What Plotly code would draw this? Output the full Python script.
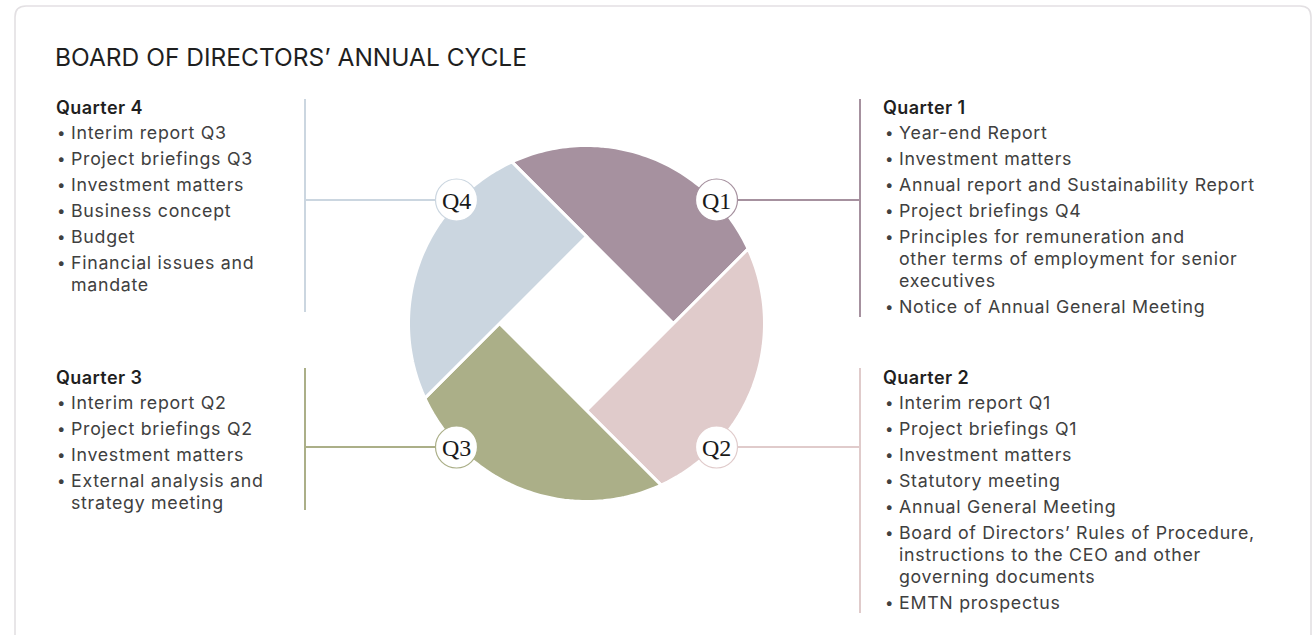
import numpy as np
import plotly.graph_objects as go

# ---------------- data ----------------
title = "BOARD OF DIRECTORS’ ANNUAL CYCLE"
quarter_labels = ["Q1", "Q2", "Q3", "Q4"]
headings = ["Quarter 1", "Quarter 2", "Quarter 3", "Quarter 4"]
q1_items = [["Year-end Report"], ["Investment matters"],
            ["Annual report and Sustainability Report"], ["Project briefings Q4"],
            ["Principles for remuneration and", "other terms of employment for senior", "executives"],
            ["Notice of Annual General Meeting"]]
q2_items = [["Interim report Q1"], ["Project briefings Q1"], ["Investment matters"],
            ["Statutory meeting"], ["Annual General Meeting"],
            ["Board of Directors’ Rules of Procedure,", "instructions to the CEO and other", "governing documents"],
            ["EMTN prospectus"]]
q3_items = [["Interim report Q2"], ["Project briefings Q2"], ["Investment matters"],
            ["External analysis and", "strategy meeting"]]
q4_items = [["Interim report Q3"], ["Project briefings Q3"], ["Investment matters"],
            ["Business concept"], ["Budget"], ["Financial issues and", "mandate"]]
quarter_items = [q1_items, q2_items, q3_items, q4_items]
quarter_colors = ["#a6919f", "#e0cbcb", "#abaf88", "#cbd6e0"]

# ---------------- layout constants ----------------
W, H = 1315, 635
CX, CY, R, HD = 586.5, 323.5, 178.0, 87.0     # wheel centre, radius, half-diagonal of inner square
BADGE_R = 21.0
BADGE_DX, BADGE_DY = 130.0, 123.5
TEXT_COL = "#404040"
HEAD_COL = "#1f1f1f"
FONT = "Inter"
LS = "letter-spacing:0.7px"

cols = [
    dict(vx=860, hx=881, bx=883, tx=897, hy=107, vy0=99, vy1=317),
    dict(vx=860, hx=881, bx=883, tx=897, hy=377, vy0=368, vy1=613),
    dict(vx=305, hx=54, bx=55, tx=69, hy=377, vy0=368, vy1=510),
    dict(vx=305, hx=54, bx=55, tx=69, hy=107, vy0=99, vy1=312),
]
ITEM_GAP = 25.9
WRAP_GAP = 22.0

fig = go.Figure()
shapes = []
annotations = []

# card
x0c, y0c, x1c, y1c, rc = 15, 6, 1311, 660, 11
card = (f"M {x0c+rc},{y0c} L {x1c-rc},{y0c} Q {x1c},{y0c} {x1c},{y0c+rc} "
        f"L {x1c},{y1c} L {x0c},{y1c} L {x0c},{y0c+rc} Q {x0c},{y0c} {x0c+rc},{y0c} Z")
shapes.append(dict(type="path", path=card, line=dict(color="#e3e0e3", width=1.6),
                   fillcolor="white", layer="below"))


def rot(p, deg):
    a = np.radians(deg)
    x, y = p
    return (x*np.cos(a) - y*np.sin(a), x*np.sin(a) + y*np.cos(a))


def scr(p):
    return (CX + p[0], CY - p[1])


s = np.sqrt(R**2 - HD**2/2)
A = (HD/2 - s/np.sqrt(2), HD/2 + s/np.sqrt(2))
corner = (HD, 0.0)
P2 = (A[1], -A[0])

for k in range(4):
    d = -90*k
    a_ = rot(A, d); c_ = rot(corner, d); p_ = rot(P2, d)
    ang0 = np.arctan2(p_[1], p_[0]); ang1 = np.arctan2(a_[1], a_[0])
    if ang1 < ang0:
        ang1 += 2*np.pi
    ts = np.linspace(ang0, ang1, 80)
    pts = [scr(a_), scr(c_), scr(p_)] + [scr((R*np.cos(t), R*np.sin(t))) for t in ts]
    path = "M " + " L ".join(f"{x:.2f},{y:.2f}" for x, y in pts) + " Z"
    shapes.append(dict(type="path", path=path, fillcolor=quarter_colors[k],
                       line=dict(color="white", width=3), layer="below"))

badge_dirs = [(1, -1), (1, 1), (-1, 1), (-1, -1)]
for k in range(4):
    col = cols[k]
    sx, sy = badge_dirs[k]
    bx, by = CX + sx*BADGE_DX, CY + sy*BADGE_DY
    c = quarter_colors[k]
    shapes.append(dict(type="line", x0=bx + sx*BADGE_R, x1=col["vx"], y0=by, y1=by,
                       line=dict(color=c, width=2)))
    shapes.append(dict(type="line", x0=col["vx"], x1=col["vx"], y0=col["vy0"], y1=col["vy1"],
                       line=dict(color=c, width=2)))
    shapes.append(dict(type="circle", x0=bx-BADGE_R, x1=bx+BADGE_R, y0=by-BADGE_R, y1=by+BADGE_R,
                       fillcolor="white", line=dict(color=c, width=1.2)))
    annotations.append(dict(x=bx, y=by+1, text=quarter_labels[k], showarrow=False,
                            xanchor="center", yanchor="middle",
                            font=dict(family="Liberation Serif", size=24, color="#1a1a1a")))
    annotations.append(dict(x=col["hx"], y=col["hy"],
                            text=f'<span style="letter-spacing:0.4px">{headings[k]}</span>',
                            showarrow=False, xanchor="left", yanchor="middle",
                            font=dict(family=FONT, size=18, color=HEAD_COL, weight=600)))
    y = col["hy"]
    for item in quarter_items[k]:
        y += ITEM_GAP
        annotations.append(dict(x=col["bx"], y=y, text="•", showarrow=False,
                                xanchor="left", yanchor="middle",
                                font=dict(family=FONT, size=15, color=TEXT_COL)))
        for j, line in enumerate(item):
            if j > 0:
                y += WRAP_GAP
            annotations.append(dict(x=col["tx"], y=y, text=f'<span style="{LS}">{line}</span>',
                                    showarrow=False, xanchor="left", yanchor="middle",
                                    font=dict(family=FONT, size=17.8, color=TEXT_COL)))

annotations.append(dict(x=53, y=57, text=title, showarrow=False, xanchor="left", yanchor="middle",
                        font=dict(family=FONT, size=24.5, color="#1f1f1f")))

fig.update_layout(
    width=W, height=H, margin=dict(l=0, r=0, t=0, b=0),
    paper_bgcolor="white", plot_bgcolor="white",
    xaxis=dict(range=[0, W], visible=False, fixedrange=True),
    yaxis=dict(range=[H, 0], visible=False, fixedrange=True),
    shapes=shapes, annotations=annotations, showlegend=False,
)

fig.write_html("out.html", include_plotlyjs=True, full_html=True,
               config=dict(displayModeBar=False, staticPlot=True),
               post_script="document.body.style.margin='0';document.body.style.overflow='hidden';")
